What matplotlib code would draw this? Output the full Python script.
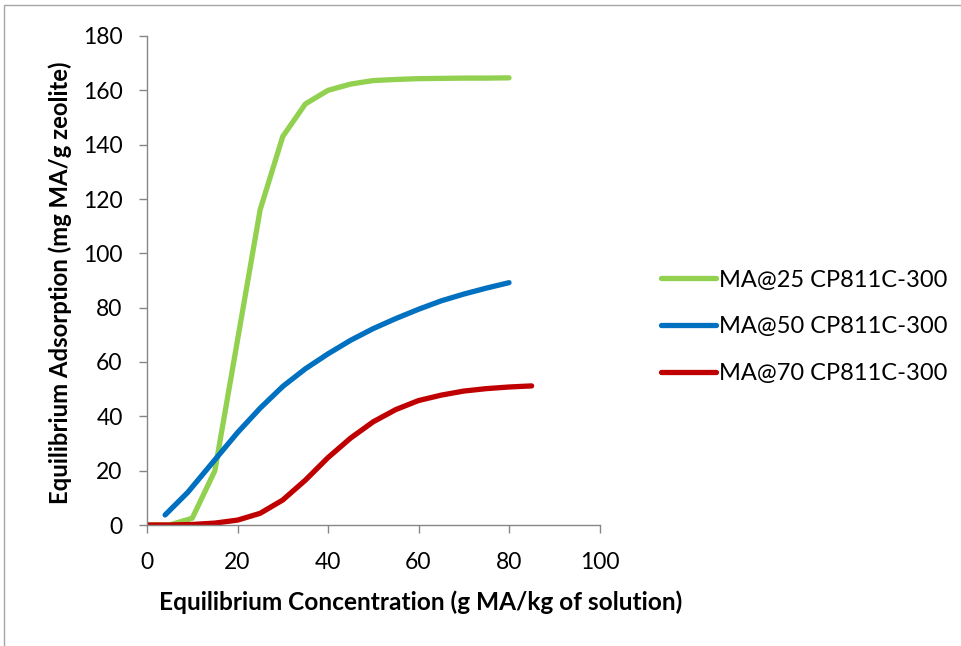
import matplotlib
matplotlib.use("Agg")
import matplotlib.pyplot as plt
from matplotlib.patches import Rectangle

plt.rcParams['font.family'] = ['Lato', 'DejaVu Sans']

# Equilibrium concentration (g MA/kg of solution) and adsorption (mg MA/g zeolite)
x_25 = [0, 5, 10, 15, 20, 25, 30, 35, 40, 45, 50, 55, 60, 65, 70, 75, 80]
y_25 = [0, 0, 2.5, 20, 68, 116, 143, 155, 160, 162.3, 163.6, 164.0, 164.3, 164.4, 164.5, 164.5, 164.6]

x_50 = [4, 9, 15, 20, 25, 30, 35, 40, 45, 50, 55, 60, 65, 70, 75, 80]
y_50 = [3.7, 12, 24, 34, 43, 51, 57.5, 63, 68, 72.3, 76, 79.4, 82.5, 85, 87.2, 89.2]

x_70 = [0, 5, 10, 15, 20, 25, 30, 35, 40, 45, 50, 55, 60, 65, 70, 75, 80, 85]
y_70 = [0, 0, 0.2, 0.7, 1.8, 4.3, 9.2, 16.5, 24.8, 32, 38, 42.5, 45.8, 47.8, 49.3, 50.2, 50.8, 51.2]

series_labels = ["MA@25 CP811C-300", "MA@50 CP811C-300", "MA@70 CP811C-300"]
series_colors = ["#92d050", "#0070c0", "#c00000"]

x_ticks = [0, 20, 40, 60, 80, 100]
y_ticks = [0, 20, 40, 60, 80, 100, 120, 140, 160, 180]

fig = plt.figure(figsize=(9.62, 6.46), dpi=100)
W, H = 962, 646
ax = fig.add_axes([147 / W, 1 - 525 / H, (599.5 - 147) / W, (525 - 36) / H])

for xs, ys, lab, col in zip([x_25, x_50, x_70], [y_25, y_50, y_70], series_labels, series_colors):
    ax.plot(xs, ys, color=col, lw=3.8, solid_capstyle='round', solid_joinstyle='round', label=lab)

ax.set_xlim(0, 100)
ax.set_ylim(0, 180)
ax.set_xticks(x_ticks)
ax.set_yticks(y_ticks)
for side in ['top', 'right']:
    ax.spines[side].set_visible(False)
for side in ['left', 'bottom']:
    ax.spines[side].set_color('#868686')
    ax.spines[side].set_linewidth(1.0)
ax.tick_params(axis='both', direction='out', length=5.5, width=1.0, color='#868686',
               labelsize=16.5)
ax.tick_params(axis='x', pad=14)
ax.tick_params(axis='y', pad=12)

ax.set_xlabel("Equilibrium Concentration (g MA/kg of solution)", fontsize=17.6, fontweight='bold',
              ha='center', va='center')
ax.xaxis.set_label_coords((421 - 147) / 452.5, -(602 - 525) / 489)
ax.set_ylabel("Equilibrium Adsorption (mg MA/g zeolite)", fontsize=17.2, fontweight='bold',
              ha='center', va='center')
ax.yaxis.set_label_coords(-(147 - 60) / 452.5, (525 - 283) / 489)

leg = ax.legend(loc='center left', bbox_to_anchor=(1.088, (525 - 327) / 489), frameon=False,
                fontsize=17, handlelength=2.35, handletextpad=0.12, labelspacing=1.1)

# outer chart frame
fig.patches.append(Rectangle((4 / W, -0.01), 1.02, 1 - 5 / H + 0.01, transform=fig.transFigure,
                             fill=False, edgecolor='#a6a6a6', lw=1.0))

fig.savefig("out.png", dpi=100)
